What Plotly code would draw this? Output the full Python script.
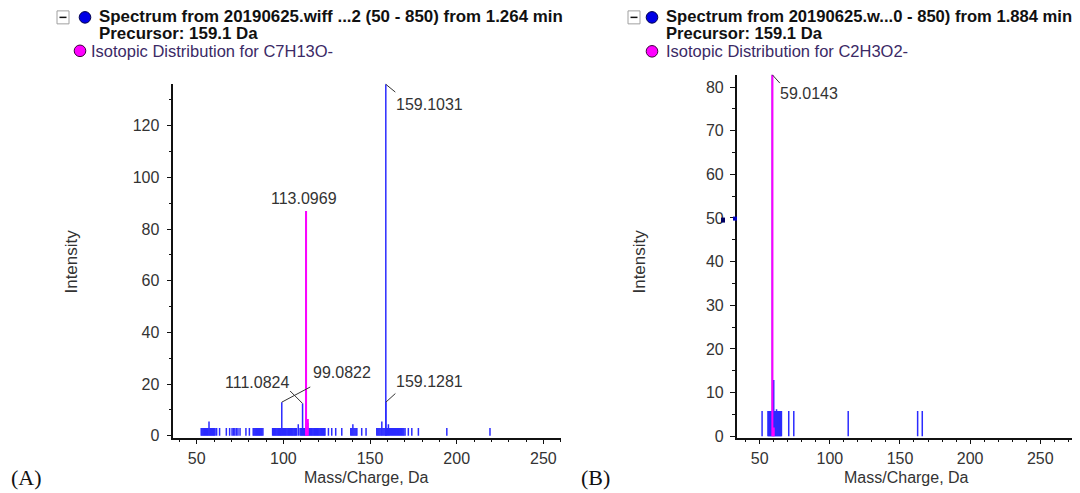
import plotly.graph_objects as go

# ---------------- data ----------------
# Panel A: spectrum at 1.264 min (blue sticks)
a_mz = [52.6, 53.1, 53.6, 54.1, 54.6, 55.1, 55.6, 56.1, 56.6, 57.1, 57.6, 58.1, 58.6, 59.1, 59.6, 60.1, 60.6,
        61.5, 63.2, 67.1, 69.0, 70.4, 71.2, 72.0, 72.9, 73.8, 75.0, 78.4, 80.4,
        82.6, 83.1, 83.6, 84.1, 84.6, 85.1, 85.6, 86.1, 86.6, 87.1, 87.6, 88.2,
        93.8, 94.3, 94.8, 95.3, 95.8, 96.3, 96.8, 97.3, 97.8, 98.3, 98.6, 99.0822, 99.6, 100.1, 100.6,
        101.1, 101.6, 102.1, 102.6, 103.1, 103.6, 104.1, 104.6, 105.1, 105.6, 106.1, 106.6, 107.1, 107.6,
        108.6,
        109.6, 110.1, 110.6, 111.0824, 111.6, 112.1, 112.6, 113.0969, 113.6, 114.1, 114.6, 115.1, 115.6,
        116.1, 116.6, 117.1, 117.6, 118.1, 118.6, 119.1, 119.6, 120.1, 120.6, 121.1, 121.6, 122.1, 122.6,
        123.1, 123.6, 124.0,
        126.0, 127.9, 130.2, 133.7,
        138.9, 139.5, 140.1, 140.7, 141.3, 141.9, 142.4, 145.2, 147.7,
        153.9, 154.5, 155.1, 155.7, 156.3, 156.8, 157.4, 158.0, 158.6, 159.1031, 159.1281, 159.6, 160.1,
        160.6, 161.1, 161.7, 162.3, 162.9, 163.5, 164.1, 164.7, 165.3, 165.9, 166.5, 167.1, 167.7, 168.3,
        168.9, 169.5, 170.2,
        172.1, 174.1, 177.9, 194.3, 219.2]
a_int = [3, 3, 3, 3, 3, 3, 3, 3, 3, 5.5, 3, 3, 3, 3, 3, 3, 3,
         3, 3, 3, 3, 3, 3, 3, 3, 3, 3, 3, 3,
         3, 3, 3, 3, 3, 3, 3, 3, 3, 3, 3, 3,
         3, 3, 3, 3, 3, 3, 3, 3, 3, 3, 3, 13, 3, 3, 3,
         3, 3, 3, 3, 3, 3, 3, 3, 3, 3, 3, 3, 3, 3,
         4.5,
         3, 3, 3, 12.5, 3, 3, 3, 87, 3, 5, 3, 3, 3,
         3, 3, 3, 3, 3, 3, 3, 3, 3, 3, 3, 3, 3, 3,
         3, 3, 3,
         3, 3, 3, 3,
         3, 3, 4.5, 3, 3, 3, 3, 3, 3,
         3, 3, 3, 3, 3, 5.5, 3, 3, 3, 136, 13, 3, 3,
         4.5, 3, 3, 3, 3, 3, 3, 3, 3, 3, 3, 3, 3, 3,
         3, 3, 3,
         3, 3, 3, 3, 3]
# Panel A: isotopic distribution for C7H13O- (magenta)
a_iso_mz = [113.0969, 114.1003]
a_iso_int = [87, 6.5]
# Panel A labels
a_labels = ["113.0969", "159.1031", "111.0824", "99.0822", "159.1281"]

# Panel B: spectrum at 1.884 min (blue sticks)
b_mz = [51.7, 55.9, 56.4, 56.9, 57.4, 57.9, 58.4, 59.0143, 59.5, 60.0, 60.5, 61.0, 61.5, 62.0, 62.5,
        63.0, 63.5, 64.0, 64.5, 65.0, 65.5, 70.7, 74.3, 113.1, 162.6, 165.9]
b_int = [5.8, 5.8, 5.8, 5.8, 5.8, 5.8, 5.8, 82.8, 5.8, 12.9, 5.8, 5.8, 5.8, 6.2, 5.8,
         5.8, 5.8, 5.8, 5.8, 5.8, 5.8, 5.8, 5.8, 5.8, 5.8, 5.8]
# Panel B: isotopic distribution for C2H3O2- (magenta)
b_iso_mz = [59.0143, 60.0177]
b_iso_int = [82.8, 2.0]
b_labels = ["59.0143"]

x_ticks = [50, 100, 150, 200, 250]

# ---------------- helpers ----------------
W, H = 1080, 493
OFF = 8  # page body margin
def px(x):
    return (x - OFF) / W
def py(y):
    yc = 17 + (y - 17) * 1.013
    return 1 - (yc - OFF) / H

def sticks(mz, inten):
    xs, ys = [], []
    for m, h in zip(mz, inten):
        xs += [m, m, None]
        ys += [0, h, None]
    return xs, ys

BLUE = "#2b2bff"
MAG = "#ff00ff"
FONT = "Liberation Sans, Arial, sans-serif"
TXT = "#333333"

fig = go.Figure()
xa, ya = sticks(a_mz, a_int)
fig.add_trace(go.Scatter(x=xa, y=ya, mode="lines", line=dict(color=BLUE, width=1.5),
                         xaxis="x", yaxis="y", hoverinfo="skip"))
xi, yi = sticks(a_iso_mz, a_iso_int)
fig.add_trace(go.Scatter(x=xi, y=yi, mode="lines", line=dict(color=MAG, width=2),
                         xaxis="x", yaxis="y", hoverinfo="skip"))
xb, yb = sticks(b_mz, b_int)
fig.add_trace(go.Scatter(x=xb, y=yb, mode="lines", line=dict(color=BLUE, width=1.5),
                         xaxis="x2", yaxis="y2", hoverinfo="skip"))
xj, yj = sticks(b_iso_mz, b_iso_int)
fig.add_trace(go.Scatter(x=xj, y=yj, mode="lines", line=dict(color=MAG, width=2),
                         xaxis="x2", yaxis="y2", hoverinfo="skip"))

axis_common = dict(showgrid=False, zeroline=False, showline=True, linecolor="#111111", linewidth=1.5,
                   ticks="outside", ticklen=5, tickwidth=1.2, tickcolor="#111111",
                   tickfont=dict(family=FONT, size=16, color=TXT), fixedrange=True)
MINOR = dict(ticks="outside", ticklen=3, tickcolor="#111111", tick0=0)

fig.update_layout(
    width=W, height=H, margin=dict(l=0, r=0, t=0, b=0),
    paper_bgcolor="white", plot_bgcolor="white", showlegend=False,
    xaxis=dict(domain=[px(173.3), px(560.7)], range=[36.5, 260], anchor="y",
               tickmode="array", tickvals=x_ticks, minor=dict(dtick=10, **MINOR), **axis_common),
    yaxis=dict(domain=[py(438.3), py(84)], range=[-0.7, 136.2], anchor="x",
               dtick=20, tick0=0, ticklabelstandoff=4, minor=dict(dtick=10, **MINOR), **axis_common),
    xaxis2=dict(domain=[px(736.7), min(1.0, px(1076.7))], range=[33.6, 276], anchor="y2",
                tickmode="array", tickvals=x_ticks, minor=dict(dtick=10, **MINOR), **axis_common),
    yaxis2=dict(domain=[py(438.3), py(75)], range=[-0.3, 82.8], anchor="x2",
                dtick=10, tick0=0, ticklabelstandoff=3, minor=dict(dtick=5, **MINOR), **axis_common),
)

ann = []
LBL = dict(family=FONT, size=16, color=TXT)
LEAD = "#333333"

def leader(xref, yref, x, y, ax, ay):
    ann.append(dict(xref=xref, yref=yref, x=x, y=y, ax=ax, ay=ay, text=" ", font=dict(size=1),
                    showarrow=True, arrowhead=0, arrowwidth=1, arrowcolor=LEAD, standoff=0,
                    startstandoff=0))

def label(xref, yref, x, y, text, xanchor, xshift, yshift):
    ann.append(dict(xref=xref, yref=yref, x=x, y=y, text=text, showarrow=False, font=LBL,
                    xanchor=xanchor, yanchor="middle", xshift=xshift, yshift=yshift))

# Panel A peak labels
label("x", "y", a_iso_mz[0], a_iso_int[0], a_labels[0], "center", -2, 12)
leader("x", "y", 159.1031, 136, 11, 9)
label("x", "y", 159.1031, 136, a_labels[1], "left", 8, -20)
leader("x", "y", 111.0824, 12.5, -14, -14)
label("x", "y", 111.0824, 12.5, a_labels[2], "right", -12, 21)
leader("x", "y", 99.0822, 13, 30, -16)
label("x", "y", 99.0822, 13, a_labels[3], "left", 29, 30)
leader("x", "y", 159.1281, 13, 11, -10)
label("x", "y", 159.1281, 13, a_labels[4], "left", 8, 21)
# Panel B peak label
leader("x2", "y2", 59.0143, 82.8, 9, 10)
label("x2", "y2", 59.0143, 82.8, b_labels[0], "left", 6, -19)

# axis titles
TIT = dict(family=FONT, size=16, color=TXT)
YTIT = dict(family=FONT, size=17, color=TXT)
ann.append(dict(xref="paper", yref="paper", x=px(366), y=py(478), text="Mass/Charge, Da",
                showarrow=False, font=TIT, xanchor="center", yanchor="middle"))
ann.append(dict(xref="paper", yref="paper", x=px(906), y=py(478), text="Mass/Charge, Da",
                showarrow=False, font=TIT, xanchor="center", yanchor="middle"))
ann.append(dict(xref="paper", yref="paper", x=px(72), y=py(262), text="Intensity", textangle=-90,
                showarrow=False, font=YTIT, xanchor="center", yanchor="middle"))
ann.append(dict(xref="paper", yref="paper", x=px(640), y=py(262), text="Intensity", textangle=-90,
                showarrow=False, font=YTIT, xanchor="center", yanchor="middle"))

# panel letters
SER = dict(family="Liberation Serif, Times New Roman, serif", size=22, color="#111111")
ann.append(dict(xref="paper", yref="paper", x=px(9), y=py(478), text="(A)", showarrow=False,
                font=SER, xanchor="left", yanchor="middle"))
ann.append(dict(xref="paper", yref="paper", x=px(579), y=py(478), text="(B)", showarrow=False,
                font=SER, xanchor="left", yanchor="middle"))

# legend headers
ISO = dict(family=FONT, size=16.5, color="#3b2a66")
def header(x_text, x_iso, title, iso, size):
    bold = dict(family=FONT, size=size, color="#111111")
    ann.append(dict(xref="paper", yref="paper", x=px(x_text), y=py(17), text="<b>" + title + "</b>",
                    showarrow=False, font=bold, xanchor="left", yanchor="middle"))
    ann.append(dict(xref="paper", yref="paper", x=px(x_text), y=py(34), text="<b>Precursor: 159.1 Da</b>",
                    showarrow=False, font=bold, xanchor="left", yanchor="middle"))
    ann.append(dict(xref="paper", yref="paper", x=px(x_iso), y=py(51), text=iso,
                    showarrow=False, font=ISO, xanchor="left", yanchor="middle"))

header(97, 89, "Spectrum from 20190625.wiff ...2 (50 - 850) from 1.264 min",
       "Isotopic Distribution for C7H13O-", 16.9)
header(664, 664, "Spectrum from 20190625.w...0 - 850) from 1.884 min",
       "Isotopic Distribution for C2H3O2-", 16.6)

shapes = []
def minus_box(x0, x1, y0, y1):
    shapes.append(dict(type="rect", xref="paper", yref="paper", x0=px(x0), x1=px(x1), y0=py(y1), y1=py(y0),
                       line=dict(color="#a0a0a0", width=1), fillcolor="white"))
    yc = (y0 + y1) / 2
    shapes.append(dict(type="line", xref="paper", yref="paper", x0=px(x0 + 2.5), x1=px(x1 - 2.5),
                       y0=py(yc), y1=py(yc), line=dict(color="#111111", width=1.5)))

def dot(cx, cy, r, fill, edge):
    shapes.append(dict(type="circle", xref="paper", yref="paper", x0=px(cx - r), x1=px(cx + r),
                       y0=py(cy + r), y1=py(cy - r), fillcolor=fill, line=dict(color=edge, width=1)))

minus_box(57, 69, 11, 24)
dot(85, 17.5, 5.8, "#0000e6", "#00004d")
dot(80, 51, 5.8, "#ff00ff", "#3d003d")
minus_box(628, 640, 11, 24)
dot(652, 17.5, 5.8, "#0000e6", "#00004d")
dot(652, 51.5, 5.8, "#ff00ff", "#3d003d")
# small cursor mark near the 50 tick of panel B
shapes.append(dict(type="rect", xref="paper", yref="paper", x0=px(721), x1=px(725), y0=py(223), y1=py(218),
                   fillcolor="#000060", line=dict(width=0)))
shapes.append(dict(type="rect", xref="paper", yref="paper", x0=px(733), x1=px(737), y0=py(221), y1=py(217),
                   fillcolor="#0000c0", line=dict(width=0)))

fig.update_layout(annotations=ann, shapes=shapes)
fig.write_html("out.html", config={"displayModeBar": False})
